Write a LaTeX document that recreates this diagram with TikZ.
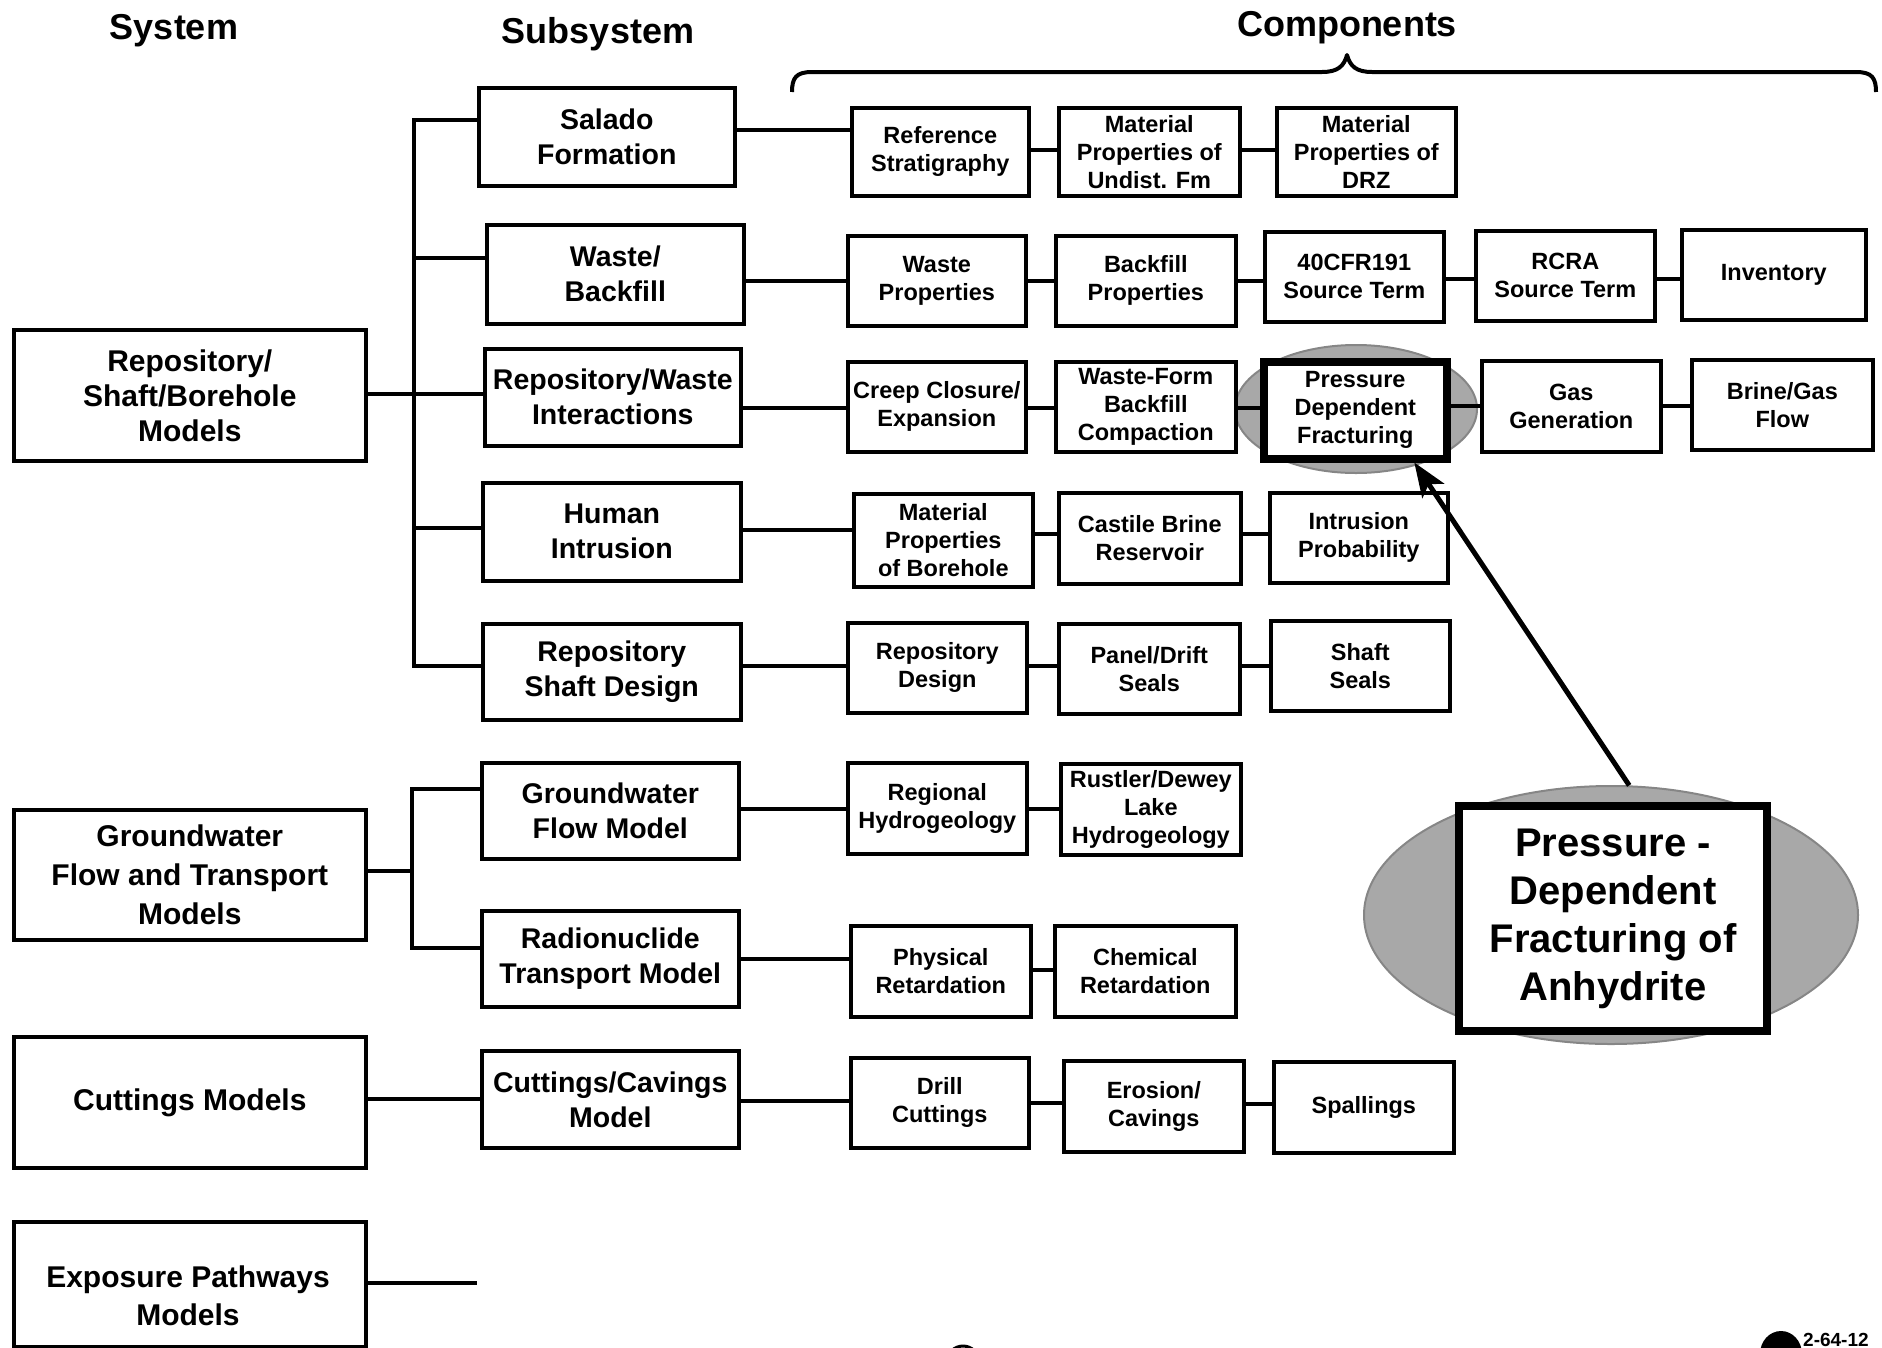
\documentclass[tikz,border=0pt]{standalone}
\usepackage{fontspec}
\setmainfont{Liberation Sans}
\usetikzlibrary{arrows.meta,calc,shapes.geometric}

\tikzset{
  box/.style={draw, line width=3.6pt, fill=white, align=center, inner sep=0pt},
  sysbox/.style={box, font=\fontsize{30}{35}\selectfont\bfseries},
  subbox/.style={box, font=\fontsize{28.5}{35}\selectfont\bfseries},
  compbox/.style={box, font=\fontsize{23.5}{28}\selectfont\bfseries},
  hotbox/.style={compbox, line width=7.5pt},
  heading/.style={font=\fontsize{36}{40}\selectfont\bfseries},
  wire/.style={line width=3.6pt},
  halo/.style={ellipse, fill=gray!68, draw=gray!95, line width=2pt, inner sep=0pt},
}

% place a box by its pixel corners: \pbox{style}{name}{x1}{y1}{x2}{y2}{text}
\newcommand{\pbox}[7]{%
  \node[#1, anchor=north west, minimum width={(#5-#3)*1pt}, minimum height={(#6-#4)*1pt}]
    (#2) at (#3,#4) {#7};}

\begin{document}
\begin{tikzpicture}[x=1pt,y=-1pt]
\useasboundingbox (0,0) rectangle (1882,1347);
\begin{scope}
\clip (0,0) rectangle (1882,1347);

% column headings
\node[heading] (hsys) at (174,31) {System};
\node[heading] (hsub) at (598,34) {Subsystem};
\node[heading] (hcomp) at (1347,28) {Components};

% brace over the component columns
\draw[line width=4pt, line join=round]
  (792,92) .. controls (792,78) and (796,72) .. (812,72) -- (1322,72)
  .. controls (1338,72) and (1344,66) .. (1347,55)
  .. controls (1350,66) and (1356,72) .. (1372,72) -- (1856,72)
  .. controls (1872,72) and (1876,78) .. (1876,92);

% shaded halos
\node[halo, minimum width=242pt, minimum height=128pt] (smallell) at (1356,409) {};
\node[halo, minimum width=494pt, minimum height=258pt] (bigell) at (1611,915) {};

% systems
\pbox{sysbox}{repsys}{12}{328}{364}{459}{Repository/\\Shaft/Borehole\\Models}
\pbox{sysbox, font=\fontsize{30}{39}\selectfont\bfseries}{gwsys}{12}{808}{364}{938}{Groundwater\\Flow and Transport\\Models}
\pbox{sysbox}{cutsys}{12}{1035}{364}{1166}{Cuttings Models}
\pbox{sysbox}{expsys}{12}{1220}{364}{1345}{}
\node[font=\fontsize{30}{38}\selectfont\bfseries, align=center] (explabel) at (188,1296) {Exposure Pathways\\Models};

% subsystems
\pbox{subbox}{salado}{477}{86}{733}{184}{Salado\\Formation}
\pbox{subbox}{wastebf}{485}{223}{742}{322}{Waste/\\Backfill}
\pbox{subbox}{repwaste}{483}{347}{739}{444}{Repository/Waste\\Interactions}
\pbox{subbox}{human}{481}{481}{739}{579}{Human\\Intrusion}
\pbox{subbox}{shaftdes}{481}{622}{739}{718}{Repository\\Shaft Design}
\pbox{subbox}{gwflow}{480}{761}{737}{857}{Groundwater\\Flow Model}
\pbox{subbox}{radtrans}{480}{909}{737}{1005}{Radionuclide\\Transport Model}
\pbox{subbox}{cutcav}{480}{1049}{737}{1146}{Cuttings/Cavings\\Model}

% components
\pbox{compbox}{refstrat}{850}{106}{1027}{194}{Reference\\Stratigraphy}
\pbox{compbox}{matund}{1057}{106}{1238}{194}{Material\\Properties of\\Undist. Fm}
\pbox{compbox}{matdrz}{1275}{106}{1454}{194}{Material\\Properties of\\DRZ}

\pbox{compbox}{wasteprop}{846}{234}{1024}{324}{Waste\\Properties}
\pbox{compbox}{bfprop}{1054}{234}{1234}{324}{Backfill\\Properties}
\pbox{compbox}{cfr}{1263}{230}{1442}{320}{40CFR191\\Source Term}
\pbox{compbox}{rcra}{1474}{229}{1653}{319}{RCRA\\Source Term}
\pbox{compbox}{inv}{1680}{228}{1864}{318}{Inventory}

\pbox{compbox}{creep}{846}{360}{1024}{450}{Creep Closure/\\Expansion}
\pbox{compbox}{wfbc}{1054}{360}{1234}{450}{Waste-Form\\Backfill\\Compaction}
\pbox{hotbox}{pdf}{1260}{358}{1443}{455}{Pressure\\Dependent\\Fracturing}
\pbox{compbox}{gasgen}{1480}{359}{1659}{450}{Gas\\Generation}
\pbox{compbox}{brine}{1690}{358}{1871}{448}{Brine/Gas\\Flow}

\pbox{compbox}{matbore}{852}{492}{1031}{585}{Material\\Properties\\of Borehole}
\pbox{compbox}{castile}{1057}{491}{1239}{582}{Castile Brine\\Reservoir}
\pbox{compbox}{intrprob}{1268}{491}{1446}{581}{Intrusion\\Probability}

\pbox{compbox}{repdes}{846}{621}{1025}{711}{Repository\\Design}
\pbox{compbox}{panel}{1057}{622}{1238}{712}{Panel/Drift\\Seals}
\pbox{compbox}{shaftseal}{1269}{619}{1448}{709}{Shaft\\Seals}

\pbox{compbox}{regional}{846}{761}{1025}{852}{Regional\\Hydrogeology}
\pbox{compbox}{rustler}{1059}{762}{1239}{853}{Rustler/Dewey\\Lake\\Hydrogeology}

\pbox{compbox}{physret}{849}{924}{1029}{1015}{Physical\\Retardation}
\pbox{compbox}{chemret}{1053}{924}{1234}{1015}{Chemical\\Retardation}

\pbox{compbox}{drill}{849}{1056}{1027}{1146}{Drill\\Cuttings}
\pbox{compbox}{erosion}{1062}{1059}{1242}{1150}{Erosion/\\Cavings}
\pbox{compbox}{spall}{1272}{1060}{1452}{1151}{Spallings}

% enlarged callout
\pbox{box, line width=8pt, font=\fontsize{40}{48}\selectfont\bfseries}{big}{1455}{802}{1763}{1027}{Pressure -\\Dependent\\Fracturing of\\Anhydrite}

% system to subsystem buses
\coordinate (bus1top) at (414,120);
\coordinate (bus1bot) at (414,666);
\draw[wire] (salado.west |- bus1top) -- (bus1top) -- (bus1bot) -- (shaftdes.west |- bus1bot);
\draw[wire] (repsys.east |- 0,394) -- (repwaste.west |- 0,394);
\draw[wire] (bus1top |- 0,258) -- (wastebf.west |- 0,258);
\draw[wire] (bus1top |- 0,528) -- (human.west |- 0,528);

\coordinate (bus2top) at (412,789);
\coordinate (bus2bot) at (412,948);
\draw[wire] (gwflow.west |- bus2top) -- (bus2top) -- (bus2bot) -- (radtrans.west |- bus2bot);
\draw[wire] (gwsys.east |- 0,871) -- (bus2top |- 0,871);

\draw[wire] (cutsys.east |- 0,1099) -- (cutcav.west |- 0,1099);
\coordinate (expend) at (477,1283);
\draw[wire] (expsys.east |- expend) -- (expend);

% subsystem to component chains
\draw[wire] (salado.east |- 0,130) -- (refstrat.west |- 0,130);
\draw[wire] (refstrat.east |- 0,150) -- (matund.west |- 0,150);
\draw[wire] (matund.east |- 0,150) -- (matdrz.west |- 0,150);

\draw[wire] (wastebf.east |- 0,281) -- (wasteprop.west |- 0,281);
\draw[wire] (wasteprop.east |- 0,281) -- (bfprop.west |- 0,281);
\draw[wire] (bfprop.east |- 0,281) -- (cfr.west |- 0,281);
\draw[wire] (cfr.east |- 0,279) -- (rcra.west |- 0,279);
\draw[wire] (rcra.east |- 0,279) -- (inv.west |- 0,279);

\draw[wire] (repwaste.east |- 0,408) -- (creep.west |- 0,408);
\draw[wire] (creep.east |- 0,408) -- (wfbc.west |- 0,408);
\draw[wire] (wfbc.east |- 0,408) -- (pdf.west |- 0,408);
\draw[wire] (pdf.east |- 0,406) -- (gasgen.west |- 0,406);
\draw[wire] (gasgen.east |- 0,406) -- (brine.west |- 0,406);

\draw[wire] (human.east |- 0,530) -- (matbore.west |- 0,530);
\draw[wire] (matbore.east |- 0,534) -- (castile.west |- 0,534);
\draw[wire] (castile.east |- 0,534) -- (intrprob.west |- 0,534);

\draw[wire] (shaftdes.east |- 0,666) -- (repdes.west |- 0,666);
\draw[wire] (repdes.east |- 0,666) -- (panel.west |- 0,666);
\draw[wire] (panel.east |- 0,666) -- (shaftseal.west |- 0,666);

\draw[wire] (gwflow.east |- 0,809) -- (regional.west |- 0,809);
\draw[wire] (regional.east |- 0,809) -- (rustler.west |- 0,809);

\draw[wire] (radtrans.east |- 0,959) -- (physret.west |- 0,959);
\draw[wire] (physret.east |- 0,970) -- (chemret.west |- 0,970);

\draw[wire] (cutcav.east |- 0,1101) -- (drill.west |- 0,1101);
\draw[wire] (drill.east |- 0,1103) -- (erosion.west |- 0,1103);
\draw[wire] (erosion.east |- 0,1104) -- (spall.west |- 0,1104);

% pointer from the callout to the highlighted component
\draw[line width=5pt, -{Stealth[length=34pt, width=26pt, inset=8pt]}]
  (bigell.82) -- ($(pdf.south)!0.62!(pdf.south east)$);

% drawing number at the foot
\fill (1781,1354) ellipse [x radius=21, y radius=23];
\node[anchor=base west, inner sep=0pt, font=\fontsize{19}{20}\selectfont\bfseries] (dwgno) at (1803,1346) {2-64-12};
\draw[line width=3pt] (963,1362) circle [radius=16];
\end{scope}
\end{tikzpicture}
\end{document}
